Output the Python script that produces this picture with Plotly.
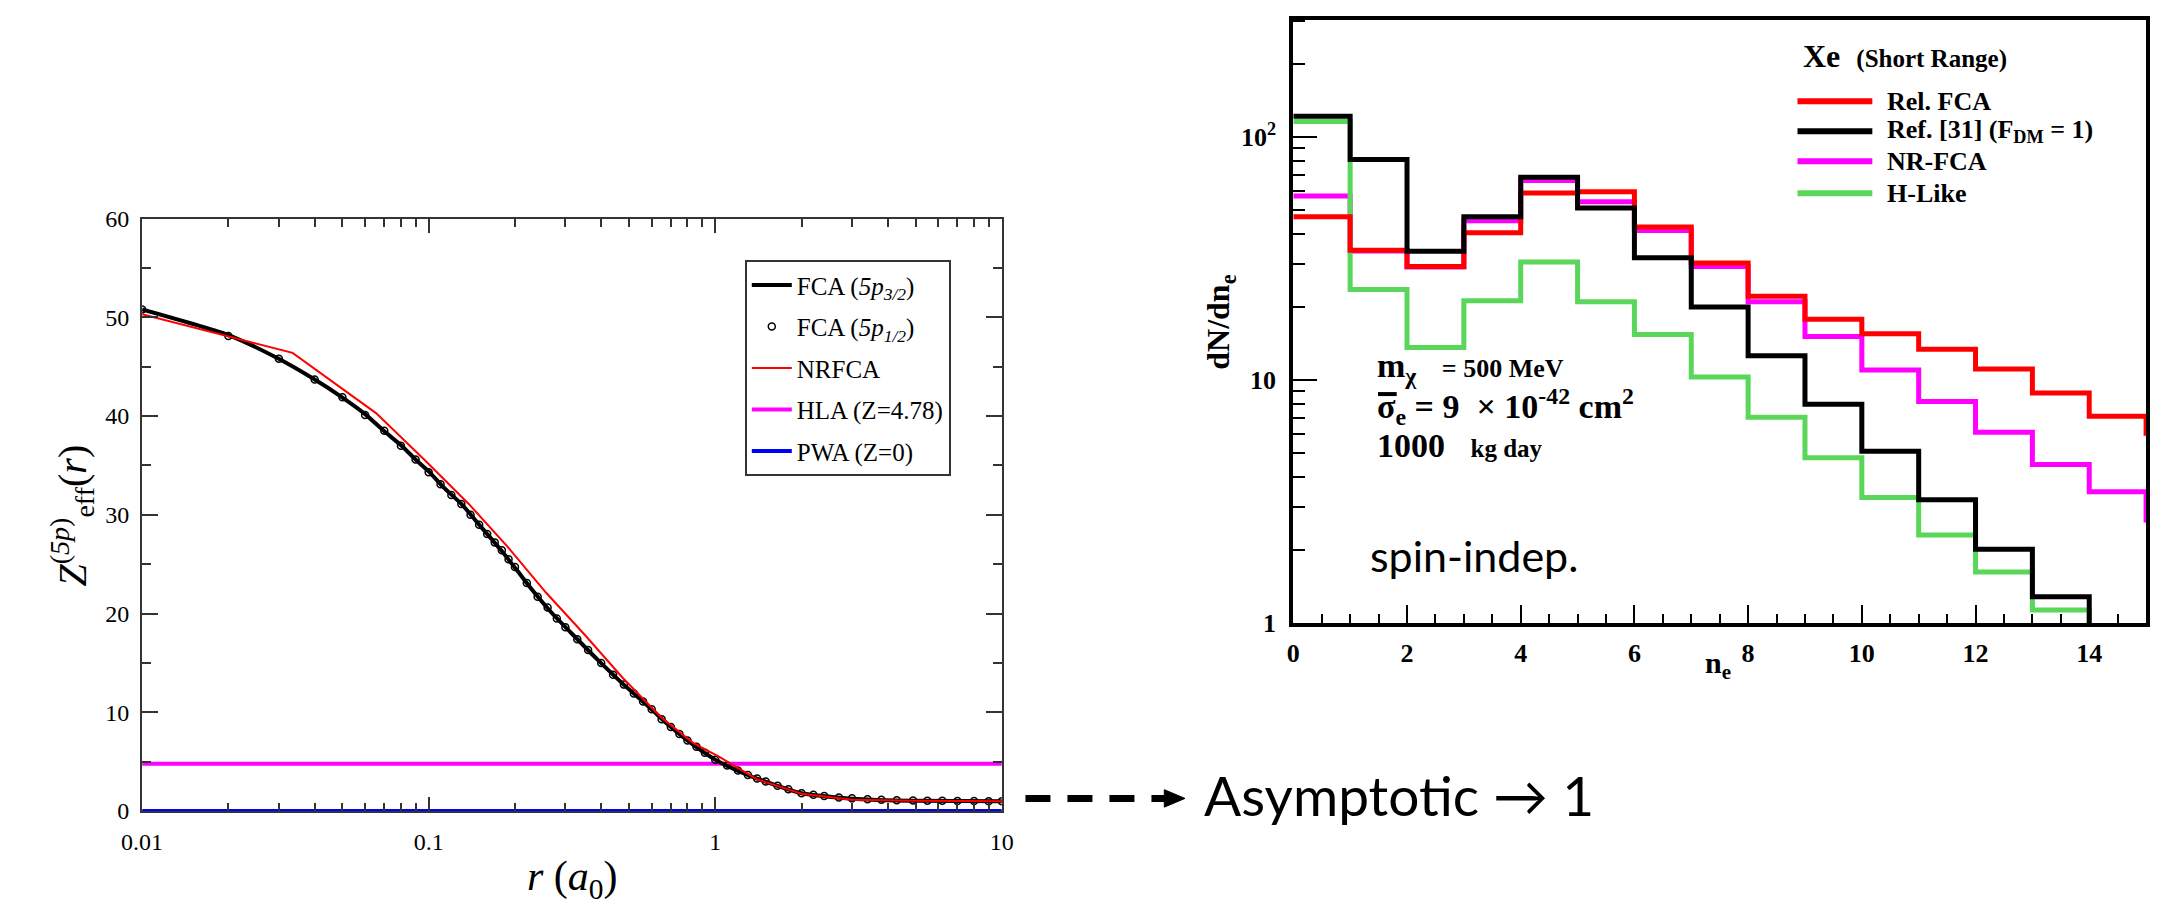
import plotly.graph_objects as go

# ---------------- Left panel data: Z_eff^(5p)(r) ----------------
r_fca32 = [0.01, 0.02, 0.0295, 0.0395, 0.0493, 0.06, 0.0697, 0.0804, 0.09, 0.1,
           0.1125, 0.131, 0.153, 0.179, 0.203, 0.231, 0.27, 0.315, 0.386, 0.475,
           0.584, 0.681, 0.795, 1.0, 1.26, 1.63, 2.0, 2.6, 3.54, 5.07, 10.0]
z_fca32 = [50.8, 48.2, 45.9, 43.8, 42.0, 40.2, 38.5, 37.0, 35.6, 34.4,
           32.8, 31.0, 28.7, 26.4, 24.4, 22.3, 20.0, 18.0, 15.4, 12.9,
           10.6, 8.8, 7.2, 5.2, 3.8, 2.6, 1.8, 1.4, 1.15, 1.05, 1.0]

r_fca12 = [0.01, 0.02, 0.03, 0.04, 0.05, 0.06, 0.07, 0.08, 0.09, 0.10,
           0.11, 0.12, 0.13, 0.14, 0.15, 0.16, 0.17, 0.18, 0.19, 0.20,
           0.22, 0.24, 0.26, 0.28, 0.30, 0.33, 0.36, 0.40, 0.44, 0.48,
           0.52, 0.56, 0.60, 0.65, 0.70, 0.75, 0.80, 0.86, 0.92, 1.0,
           1.1, 1.2, 1.3, 1.4, 1.5, 1.65, 1.8, 2.0, 2.2, 2.4,
           2.7, 3.0, 3.4, 3.8, 4.3, 4.9, 5.5, 6.2, 7.0, 8.0, 9.0, 10.0]
z_fca12 = [50.8, 48.1, 45.8, 43.7, 41.9, 40.1, 38.5, 37.0, 35.6, 34.3,
           33.1, 32.0, 31.1, 30.0, 29.0, 28.05, 27.2, 26.4, 25.5, 24.7,
           23.1, 21.7, 20.6, 19.5, 18.6, 17.4, 16.3, 15.0, 13.8, 12.8,
           11.9, 11.1, 10.3, 9.3, 8.5, 7.8, 7.15, 6.5, 5.9, 5.2,
           4.6, 4.1, 3.65, 3.3, 3.0, 2.55, 2.2, 1.8, 1.65, 1.52,
           1.37, 1.28, 1.18, 1.13, 1.10, 1.06, 1.04, 1.03, 1.02, 1.01, 1.0, 1.0]

r_nrfca = [0.01, 0.02, 0.0335, 0.0655, 0.0964, 0.138, 0.188, 0.257, 0.349, 0.475,
           0.647, 0.836, 1.03, 1.4, 2.0, 3.0, 5.0, 10.0]
z_nrfca = [50.3, 48.1, 46.4, 40.3, 35.6, 31.1, 26.8, 22.1, 17.9, 13.5,
           9.5, 6.9, 5.5, 3.2, 1.75, 1.15, 1.03, 1.0]

r_span = [0.01, 10.0]
z_hla = 4.78
z_pwa = 0.0

x1_tickvals = [0.01, 0.1, 1, 10]
x1_ticktext = ["0.01", "0.1", "1", "10"]
y1_tickvals = [0, 10, 20, 30, 40, 50, 60]

# ---------------- Right panel data: dN/dn_e histograms ----------------
ne_edges = [0, 1, 2, 3, 4, 5, 6, 7, 8, 9, 10, 11, 12, 13, 14, 15]
rel_fca = [47.0, 34.2, 29.3, 40.4, 58.9, 59.6, 42.7, 30.3, 22.1, 17.8, 15.5, 13.4, 11.1, 8.85, 7.1, 5.9]
ref31   = [122, 80.8, 33.9, 47.0, 68.4, 51.1, 31.9, 20.0, 12.6, 7.95, 5.09, 3.21, 2.01, 1.28, 0.8, 0.8]
nr_fca  = [57.2, 34.0, 29.2, 45.3, 66.2, 54.2, 41.3, 29.3, 21.0, 15.1, 11.0, 8.15, 6.09, 4.49, 3.47, 2.59]
h_like  = [116, 23.6, 13.6, 21.2, 30.6, 21.0, 15.4, 10.3, 7.02, 4.78, 3.28, 2.30, 1.62, 1.13, 0.8, 0.8]

y2_tickvals = [1, 10, 100]
y2_ticktext = ["1", "10", "10<sup>2</sup>"]

W, H = 2164, 922
def px(x):
    return x / W
def py(y):
    return 1 - y / H

SERIF = "Liberation Serif, Times New Roman, serif"
SANS = "Lato, Open Sans, sans-serif"

fig = go.Figure()

# ---- left panel traces ----
fig.add_trace(go.Scatter(x=r_span, y=[z_hla, z_hla], mode="lines",
                         line=dict(color="#ff00ff", width=4),
                         name="HLA (Z=4.78)", legend="legend", legendrank=4, legendgroup="g4",
                         xaxis="x", yaxis="y"))
fig.add_trace(go.Scatter(x=r_span, y=[z_pwa, z_pwa], mode="lines",
                         line=dict(color="#0000ff", width=4),
                         name="PWA (Z=0)", legend="legend", legendrank=5, legendgroup="g5",
                         xaxis="x", yaxis="y"))
fig.add_trace(go.Scatter(x=r_fca32, y=z_fca32, mode="lines",
                         line=dict(color="black", width=4, shape="spline", smoothing=0.6),
                         name="FCA (<i>5p</i><sub><i>3/2</i></sub>)", legend="legend",
                         legendrank=1, legendgroup="g1",
                         xaxis="x", yaxis="y"))
fig.add_trace(go.Scatter(x=r_fca12, y=z_fca12, mode="markers",
                         marker=dict(symbol="circle-open", size=7, color="black",
                                     line=dict(width=1.5, color="black")),
                         name="FCA (<i>5p</i><sub><i>1/2</i></sub>)", legend="legend",
                         legendrank=2, legendgroup="g2",
                         xaxis="x", yaxis="y"))
fig.add_trace(go.Scatter(x=r_nrfca, y=z_nrfca, mode="lines",
                         line=dict(color="#ff0000", width=2),
                         name="NRFCA", legend="legend", legendrank=3, legendgroup="g3",
                         xaxis="x", yaxis="y"))

# ---- right panel traces (drawing order) ----
step_series = {
    "Rel. FCA": (rel_fca, "#ff0000"),
    "Ref. [31] (F<sub>DM</sub> = 1)": (ref31, "black"),
    "NR-FCA": (nr_fca, "#ff00ff"),
    "H-Like": (h_like, "#5ad65a"),
}
draw_order = ["NR-FCA", "H-Like", "Rel. FCA", "Ref. [31] (F<sub>DM</sub> = 1)"]
for name in draw_order:
    vals, col = step_series[name]
    fig.add_trace(go.Scatter(x=ne_edges, y=vals, mode="lines",
                             line=dict(color=col, width=5, shape="hv"),
                             name=name, showlegend=False,
                             xaxis="x2", yaxis="y2"))

left_axis_common = dict(showline=True, linecolor="#333", linewidth=2, mirror="ticks",
                        ticks="inside", tickcolor="#333", tickwidth=1.5,
                        showgrid=False, zeroline=False,
                        tickfont=dict(family=SERIF, size=24, color="black"))

fig.update_layout(
    width=W, height=H, autosize=False,
    margin=dict(l=0, r=0, t=0, b=0),
    paper_bgcolor="white", plot_bgcolor="white",
    showlegend=True,
    xaxis=dict(type="log", range=[-2, 1], domain=[px(123), px(996)], anchor="y",
               tickvals=x1_tickvals, ticktext=x1_ticktext, ticklen=14,
               ticklabelstandoff=8,
               minor=dict(ticks="inside", ticklen=8, tickcolor="#333", tickwidth=1.5,
                          tickvals=[0.02, 0.03, 0.04, 0.05, 0.06, 0.07, 0.08, 0.09,
                                    0.2, 0.3, 0.4, 0.5, 0.6, 0.7, 0.8, 0.9,
                                    2, 3, 4, 5, 6, 7, 8, 9]),
               **left_axis_common),
    yaxis=dict(range=[0, 60], domain=[py(823), py(212)], anchor="x",
               tickvals=y1_tickvals, ticklen=16, ticklabelstandoff=6,
               minor=dict(ticks="inside", ticklen=9, tickcolor="#333", tickwidth=1.5, dtick=5),
               **left_axis_common),
    xaxis2=dict(range=[0, 15], domain=[px(1292), px(2158)], anchor="y2",
                showline=True, linecolor="black", linewidth=4, mirror=True,
                ticks="inside", tickcolor="black", tickwidth=2, ticklen=18,
                tick0=0, dtick=2, showgrid=False, zeroline=False,
                ticklabelstandoff=4,
                minor=dict(ticks="inside", ticklen=9, tickcolor="black", tickwidth=2, dtick=0.5),
                tickfont=dict(family=SERIF, size=26, color="black", weight="bold")),
    yaxis2=dict(type="log", range=[0, 2.483], domain=[py(629), py(7)], anchor="x2",
                showline=True, linecolor="black", linewidth=4, mirror=True,
                ticks="inside", tickcolor="black", tickwidth=2, ticklen=24,
                tickvals=y2_tickvals, ticktext=y2_ticktext, showgrid=False, zeroline=False,
                ticklabelstandoff=8,
                minor=dict(ticks="inside", ticklen=12, tickcolor="black", tickwidth=2,
                           tickvals=[2, 3, 4, 5, 6, 7, 8, 9, 20, 30, 40, 50, 60, 70, 80, 90, 200, 300]),
                tickfont=dict(family=SERIF, size=26, color="black", weight="bold")),
    legend=dict(x=px(735), y=py(255), xanchor="left", yanchor="top",
                bgcolor="white", bordercolor="#333", borderwidth=2,
                font=dict(family=SERIF, size=25, color="black"),
                traceorder="grouped", tracegroupgap=6, itemwidth=40),
)

ann = []
# left axis titles
ann.append(dict(text="<i>Z</i><sup>(<i>5p</i>)</sup><sub>eff</sub>(<i>r</i>)",
                x=px(52), y=py(518), xref="paper", yref="paper", showarrow=False,
                xanchor="center", yanchor="middle",
                textangle=-90, font=dict(family=SERIF, size=40, color="black")))
ann.append(dict(text="<i>r</i> (<i>a</i><sub>0</sub>)",
                x=px(560), y=py(893), xref="paper", yref="paper", showarrow=False,
                xanchor="center", yanchor="middle",
                font=dict(family=SERIF, size=42, color="black")))
# right axis titles
ann.append(dict(text="dN/dn<sub>e</sub>", x=px(1218), y=py(319), xref="paper", yref="paper",
                showarrow=False, textangle=-90, xanchor="center", yanchor="middle",
                font=dict(family=SERIF, size=32, color="black", weight="bold")))
ann.append(dict(text="n<sub>e</sub>", x=px(1723), y=py(672), xref="paper", yref="paper",
                showarrow=False, xanchor="center", yanchor="middle",
                font=dict(family=SERIF, size=30, color="black", weight="bold")))
# right panel legend (title + entries with long line samples)
ann.append(dict(text="Xe  <span style='font-size:25px'>(Short Range)</span>",
                x=px(1808), y=py(44), xref="paper", yref="paper", xanchor="left", yanchor="middle",
                showarrow=False, font=dict(family=SERIF, size=32, color="black", weight="bold")))
legend_rows = ["Rel. FCA", "Ref. [31] (F<sub>DM</sub> = 1)", "NR-FCA", "H-Like"]
legend_ys = [91, 122, 153, 186]
for name, yy in zip(legend_rows, legend_ys):
    col = step_series[name][1]
    fig.add_shape(type="line", xref="paper", yref="paper",
                  x0=px(1804), x1=px(1880), y0=py(yy), y1=py(yy),
                  line=dict(color=col, width=6))
    ann.append(dict(text=name, x=px(1893), y=py(yy), xref="paper", yref="paper",
                    xanchor="left", yanchor="middle", showarrow=False,
                    font=dict(family=SERIF, size=26, color="black", weight="bold")))
# right panel text block
ann.append(dict(text="m<sub>χ</sub>   <span style='font-size:26px'>= 500 MeV</span>",
                x=px(1375), y=py(366), xref="paper", yref="paper", xanchor="left", yanchor="middle",
                showarrow=False, font=dict(family=SERIF, size=34, color="black", weight="bold")))
ann.append(dict(text="σ<sub>e</sub> = 9  × 10<sup>-42</sup> cm<sup>2</sup>",
                x=px(1375), y=py(406), xref="paper", yref="paper", xanchor="left", yanchor="middle",
                showarrow=False, font=dict(family=SERIF, size=34, color="black", weight="bold")))
ann.append(dict(text="1000   <span style='font-size:25px'>kg day</span>",
                x=px(1375), y=py(446), xref="paper", yref="paper", xanchor="left", yanchor="middle",
                showarrow=False, font=dict(family=SERIF, size=34, color="black", weight="bold")))
ann.append(dict(text="spin-indep.", x=px(1368), y=py(560), xref="paper", yref="paper",
                xanchor="left", yanchor="middle", showarrow=False,
                font=dict(family=SANS, size=43, color="black")))
# asymptotic note
ann.append(dict(text="Asymptotic → 1", x=px(1199), y=py(806), xref="paper", yref="paper",
                xanchor="left", yanchor="middle", showarrow=False,
                font=dict(family=SANS, size=55, color="black")))
fig.update_layout(annotations=ann)

# bar over sigma (sigma-bar)
fig.add_shape(type="line", xref="paper", yref="paper",
              x0=px(1378), x1=px(1397), y0=py(393), y1=py(393),
              line=dict(color="black", width=4))
# dashed pointer arrow
fig.add_shape(type="line", xref="paper", yref="paper",
              x0=px(1020), x1=px(1163), y0=py(810), y1=py(810),
              line=dict(color="black", width=7, dash="25px,17px"))
fig.add_shape(type="path", xref="paper", yref="paper",
              path=f"M {px(1161)},{py(801)} L {px(1182)},{py(810)} L {px(1161)},{py(819)} Z",
              fillcolor="black", line=dict(color="black", width=1))

fig.write_html("out.html")
